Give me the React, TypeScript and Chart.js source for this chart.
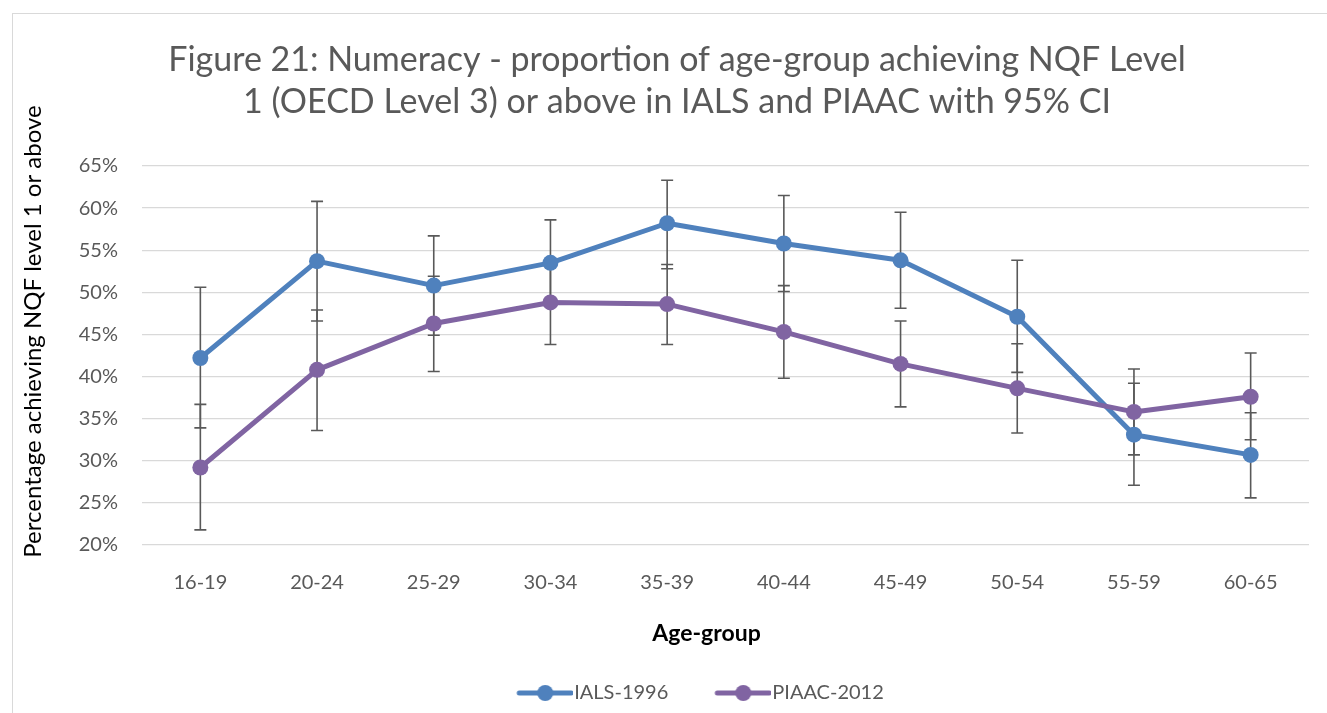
import React, { useEffect, useRef } from 'react';
import { Chart, registerables } from 'chart.js';

Chart.register(...registerables);

const ageGroups = ['16-19', '20-24', '25-29', '30-34', '35-39', '40-44', '45-49', '50-54', '55-59', '60-65'];

const ials = [42.2, 53.7, 50.8, 53.5, 58.2, 55.8, 53.8, 47.1, 33.1, 30.7];
const ialsLow = [33.9, 46.6, 44.9, 48.4, 52.8, 50.1, 48.1, 40.5, 27.1, 25.6];
const ialsHigh = [50.6, 60.8, 56.7, 58.6, 63.3, 61.5, 59.5, 53.8, 39.2, 35.7];

const piaac = [29.2, 40.8, 46.3, 48.8, 48.6, 45.3, 41.5, 38.6, 35.8, 37.6];
const piaacLow = [21.8, 33.6, 40.6, 43.8, 43.8, 39.8, 36.4, 33.3, 30.7, 32.5];
const piaacHigh = [36.7, 47.9, 51.9, 53.8, 53.3, 50.8, 46.6, 43.9, 40.9, 42.8];

const seriesLabels = ['IALS-1996', 'PIAAC-2012'];
const seriesColors = ['#4F81BD', '#8064A2'];

const titleLines = [
  'Figure 21: Numeracy - proportion of age-group achieving NQF Level',
  '1 (OECD Level 3) or above in IALS and PIAAC with 95% CI',
];
const xTitle = 'Age-group';
const yTitle = 'Percentage achieving NQF level 1 or above';
const yMin = 20;
const yMax = 65;
const yStep = 5;

const FONT = 'Lato, "Open Sans", sans-serif';
const GREY = '#595959';

const errorSets = [
  { low: ialsLow, high: ialsHigh },
  { low: piaacLow, high: piaacHigh },
];

const errorBarPlugin = {
  id: 'errorBars',
  beforeDatasetsDraw(chart: any) {
    const { ctx } = chart;
    const x = chart.scales.x;
    const y = chart.scales.y;
    ctx.save();
    ctx.strokeStyle = GREY;
    ctx.lineWidth = 1.6;
    errorSets.forEach(({ low, high }) => {
      low.forEach((lo, i) => {
        const px = x.getPixelForValue(i);
        const yl = y.getPixelForValue(lo);
        const yh = y.getPixelForValue(high[i]);
        ctx.beginPath();
        ctx.moveTo(px, yl);
        ctx.lineTo(px, yh);
        ctx.moveTo(px - 6, yl);
        ctx.lineTo(px + 6, yl);
        ctx.moveTo(px - 6, yh);
        ctx.lineTo(px + 6, yh);
        ctx.stroke();
      });
    });
    ctx.restore();
  },
};

function shiftScaleTitle(scale: any, dx: number, dy: number) {
  if (!scale || scale.__titleShifted) return;
  const orig = scale.drawTitle;
  scale.__titleShifted = true;
  scale.drawTitle = function (...args: any[]) {
    const { top, bottom, left, right } = this;
    this.top += dy;
    this.bottom += dy;
    this.left += dx;
    this.right += dx;
    orig.apply(this, args);
    this.top = top;
    this.bottom = bottom;
    this.left = left;
    this.right = right;
  };
}

const boxShiftPlugin = {
  id: 'boxShift',
  afterLayout(chart: any) {
    const l = chart.legend;
    if (l) {
      l.left += 23;
      l.right += 23;
    }
    const t = chart.titleBlock;
    if (t) {
      t.left += 16;
      t.right += 16;
    }
    shiftScaleTitle(chart.scales.y, 0, -24);
    shiftScaleTitle(chart.scales.x, -19, 0);
  },
};

function makeLegendImage(color: string) {
  const c = document.createElement('canvas');
  c.width = 98;
  c.height = 20;
  const g = c.getContext('2d')!;
  g.strokeStyle = color;
  g.lineWidth = 5;
  g.lineCap = 'round';
  g.beginPath();
  g.moveTo(44, 10);
  g.lineTo(96, 10);
  g.stroke();
  g.fillStyle = color;
  g.beginPath();
  g.arc(70, 10, 8, 0, Math.PI * 2);
  g.fill();
  return c;
}

export default function App() {
  const canvasRef = useRef<HTMLCanvasElement>(null);

  useEffect(() => {
    const canvas = canvasRef.current;
    if (!canvas) return;
    const legendImgs = seriesColors.map(makeLegendImage);

    const chart = new Chart(canvas, {
      type: 'line',
      data: {
        labels: ageGroups,
        datasets: [
          {
            label: seriesLabels[0],
            data: ials,
            borderColor: seriesColors[0],
            backgroundColor: seriesColors[0],
            pointBackgroundColor: seriesColors[0],
            pointBorderColor: seriesColors[0],
            borderWidth: 5,
            pointRadius: 8,
            pointBorderWidth: 0,
            tension: 0,
            borderJoinStyle: 'round',
            borderCapStyle: 'round',
            order: 1,
          },
          {
            label: seriesLabels[1],
            data: piaac,
            borderColor: seriesColors[1],
            backgroundColor: seriesColors[1],
            pointBackgroundColor: seriesColors[1],
            pointBorderColor: seriesColors[1],
            borderWidth: 5,
            pointRadius: 8,
            pointBorderWidth: 0,
            tension: 0,
            borderJoinStyle: 'round',
            borderCapStyle: 'round',
            order: 0,
          },
        ],
      },
      options: {
        responsive: false,
        animation: false,
        devicePixelRatio: 1,
        layout: { padding: { left: 0, right: 32, top: 0, bottom: 21 } },
        plugins: {
          title: {
            display: true,
            text: titleLines,
            color: GREY,
            font: { family: FONT, size: 34, weight: 'normal', lineHeight: 1.235 },
            padding: { top: 25, bottom: 43 },
          },
          legend: {
            position: 'bottom',
            labels: {
              usePointStyle: true,
              pointStyleWidth: 80,
              padding: 14,
              color: GREY,
              font: { family: FONT, size: 20 },
              generateLabels(ch: any) {
                const items = Chart.defaults.plugins.legend.labels.generateLabels(ch);
                items.sort((a: any, b: any) => a.datasetIndex - b.datasetIndex);
                items.forEach((it: any) => {
                  it.pointStyle = legendImgs[it.datasetIndex];
                  it.fontColor = GREY;
                });
                return items;
              },
            },
          },
          tooltip: { enabled: false },
        },
        scales: {
          x: {
            offset: true,
            grid: { display: false, offset: true },
            border: { display: false },
            ticks: {
              color: GREY,
              font: { family: FONT, size: 20 },
              padding: 18,
              autoSkip: false,
              maxRotation: 0,
            },
            title: {
              display: true,
              text: xTitle,
              color: '#000',
              font: { family: FONT, size: 23, weight: 'bold' },
              padding: { top: 0, bottom: 22 },
            },
            afterFit(s: any) {
              s.height = 124;
            },
          },
          y: {
            min: yMin,
            max: yMax,
            ticks: {
              stepSize: yStep,
              color: GREY,
              font: { family: FONT, size: 20 },
              padding: 24,
              callback: (v: any) => v + '%',
            },
            grid: { color: '#d9d9d9', lineWidth: 1.2, drawTicks: false },
            border: { display: false },
            title: {
              display: true,
              text: yTitle,
              color: '#000',
              font: { family: FONT, size: 24 },
              padding: { top: 6, bottom: 0 },
            },
            afterFit(s: any) {
              s.width = 129;
            },
          },
        },
      },
      plugins: [errorBarPlugin, boxShiftPlugin],
    });

    return () => chart.destroy();
  }, []);

  return (
    <div
      style={{
        position: 'fixed',
        left: 0,
        top: 0,
        width: 1327,
        height: 713,
        overflow: 'hidden',
        background: '#fff',
      }}
    >
      <div
        style={{
          position: 'absolute',
          left: 12,
          top: 13,
          width: 1340,
          height: 760,
          border: '1px solid #d9d9d9',
        }}
      >
        <canvas
          ref={canvasRef}
          width={1328}
          height={720}
          style={{ position: 'absolute', left: 0, top: 0, width: 1328, height: 720 }}
        />
      </div>
    </div>
  );
}
